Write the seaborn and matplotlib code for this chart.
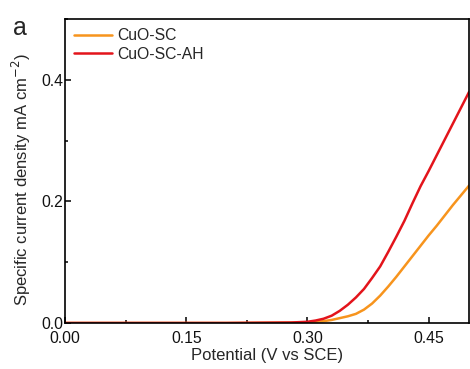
import numpy as np
import pandas as pd
import seaborn as sns
import matplotlib
matplotlib.use("Agg")
import matplotlib.pyplot as plt
from matplotlib.ticker import MultipleLocator, FormatStrFormatter

# potential (V vs SCE)
potential = [0.00, 0.10, 0.20, 0.28, 0.30, 0.31, 0.32, 0.33, 0.34, 0.35, 0.36, 0.37,
             0.38, 0.39, 0.40, 0.41, 0.42, 0.43, 0.44, 0.45, 0.46, 0.47, 0.48,
             0.49, 0.50]
cuo_sc = [0.0, 0.0, 0.0, 0.0005, 0.001, 0.002, 0.003, 0.005, 0.008, 0.011, 0.015,
          0.022, 0.032, 0.045, 0.060, 0.076, 0.093, 0.110, 0.127, 0.144, 0.160,
          0.177, 0.194, 0.210, 0.226]
cuo_sc_ah = [0.0, 0.0, 0.0, 0.0008, 0.002, 0.004, 0.007, 0.012, 0.020, 0.030, 0.042,
             0.056, 0.074, 0.093, 0.117, 0.142, 0.168, 0.197, 0.225, 0.250, 0.276,
             0.302, 0.328, 0.354, 0.380]
labels = ["CuO-SC", "CuO-SC-AH"]
colors = ["#F7941D", "#E3141B"]

df = pd.DataFrame({
    "x": potential * 2,
    "y": cuo_sc + cuo_sc_ah,
    "sample": [labels[0]] * len(potential) + [labels[1]] * len(potential),
})

sns.set_style("ticks")
plt.rcParams["font.family"] = ["Liberation Sans", "DejaVu Sans"]

fig = plt.figure(figsize=(4.70, 3.69), dpi=100)
ax = fig.add_axes([0.1383, 0.1247, 0.8597, 0.8238])
sns.lineplot(data=df, x="x", y="y", hue="sample", palette=colors,
             linewidth=1.8, ax=ax)

ax.set_xlim(0, 0.5)
ax.set_ylim(0, 0.5)
ax.xaxis.set_major_locator(MultipleLocator(0.15))
ax.xaxis.set_minor_locator(MultipleLocator(0.075))
ax.yaxis.set_major_locator(MultipleLocator(0.2))
ax.yaxis.set_minor_locator(MultipleLocator(0.1))
ax.xaxis.set_major_formatter(FormatStrFormatter("%.2f"))
ax.yaxis.set_major_formatter(FormatStrFormatter("%.1f"))
ax.tick_params(which="both", direction="in", color="black", width=1.1,
               labelsize=11.3, labelcolor="#111111")
ax.tick_params(axis="x", pad=5.5)
ax.tick_params(axis="y", pad=1.5)
ax.tick_params(which="major", length=4)
ax.tick_params(which="minor", length=2.5)
for s in ax.spines.values():
    s.set_color("black")
    s.set_linewidth(1.2)

ax.set_xlabel("Potential (V vs SCE)", fontsize=12, labelpad=2)
ax.set_ylabel("Specific current density mA cm$^{-2}$)", fontsize=12)
ax.yaxis.set_label_coords(-0.08, 0.47)

leg = ax.legend(loc="upper left", frameon=False, fontsize=11.3, handlelength=2.4,
                handletextpad=0.35, labelspacing=0.2, borderaxespad=0.2)

fig.text(0.028, 0.905, "a", fontsize=18)

fig.savefig("out.png", dpi=100)
